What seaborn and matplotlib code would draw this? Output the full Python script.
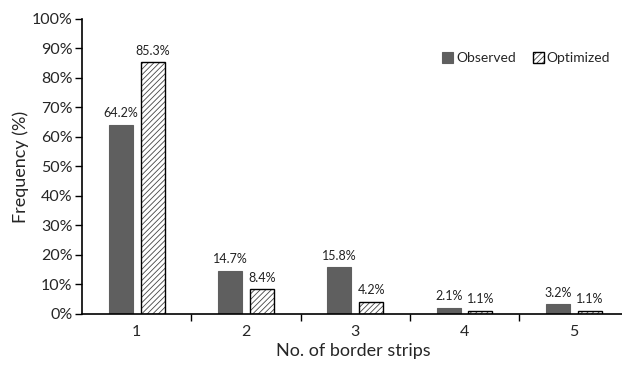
import pandas as pd
import seaborn as sns
import matplotlib
import matplotlib.pyplot as plt
from matplotlib.ticker import FixedLocator, PercentFormatter

strips = ["1", "2", "3", "4", "5"]
observed = [64.2, 14.7, 15.8, 2.1, 3.2]
optimized = [85.3, 8.4, 4.2, 1.1, 1.1]
series = ["Observed", "Optimized"]


def main():
    sns.set_style("ticks")
    plt.rcParams['font.family'] = ['Lato', 'DejaVu Sans']
    matplotlib.rcParams['hatch.linewidth'] = 0.6

    df = pd.DataFrame({
        "strips": strips * 2,
        "freq": observed + optimized,
        "series": [series[0]] * len(strips) + [series[1]] * len(strips),
    })

    fig = plt.figure(figsize=(6.22, 3.65), dpi=100)
    ax = fig.add_axes([0.132, 0.140, 0.873, 0.808])
    sns.barplot(data=df, x="strips", y="freq", hue="series",
                palette=["#5f5f5f", "white"], width=0.58, gap=0.24,
                saturation=1, ax=ax, legend=False)

    # observed solid, optimized hatched with a black outline
    for p in ax.containers[0]:
        p.set_edgecolor("#5f5f5f")
        p.set_linewidth(0.8)
    for p in ax.containers[1]:
        p.set_hatch("//////")
        p.set_edgecolor("black")
        p.set_linewidth(1.0)
        p._hatch_color = matplotlib.colors.to_rgba("#444444")

    for cont, vals in zip(ax.containers, [observed, optimized]):
        ax.bar_label(cont, labels=[f"{v}%" for v in vals], padding=4,
                     fontsize=9, color="#222222")

    ax.set_ylim(0, 100)
    ax.set_yticks(range(0, 101, 10))
    ax.yaxis.set_major_formatter(PercentFormatter(decimals=0))
    ax.set_xlim(-0.5, 4.47)
    ax.xaxis.set_minor_locator(FixedLocator([0.5, 1.5, 2.5, 3.5]))
    ax.tick_params(axis="x", which="major", length=0, labelsize=11.5, pad=8)
    ax.tick_params(axis="x", which="minor", length=5, width=1, color="black")
    ax.tick_params(axis="y", length=5, width=1, color="black", labelsize=11.5,
                   pad=2)
    for s in ["top", "right"]:
        ax.spines[s].set_visible(False)
    for s in ["left", "bottom"]:
        ax.spines[s].set_color("black")
        ax.spines[s].set_linewidth(1.2)

    ax.set_xlabel("No. of border strips", fontsize=13, labelpad=3)
    ax.set_ylabel("Frequency (%)", fontsize=13, labelpad=2)

    ax.legend(handles=[ax.containers[0][0], ax.containers[1][0]],
              labels=series, loc="upper right", bbox_to_anchor=(0.995, 0.93),
              ncol=2, frameon=False, fontsize=10, handlelength=0.8,
              handleheight=0.8, handletextpad=0.2, columnspacing=1.2)

    plt.savefig("out.png", dpi=100)


if __name__ == "__main__":
    main()
